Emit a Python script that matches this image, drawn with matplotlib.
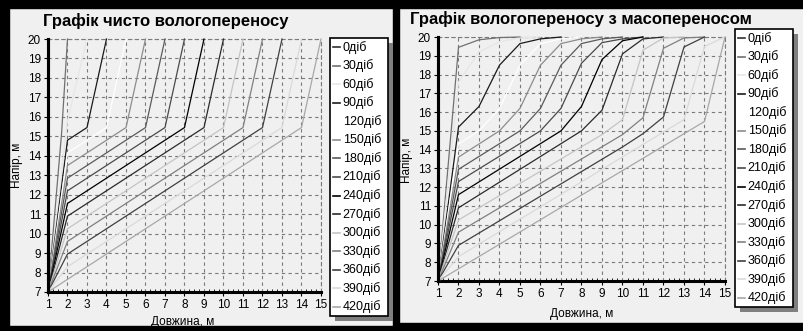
import matplotlib
matplotlib.use('Agg')
import matplotlib.pyplot as plt
from matplotlib.patches import Rectangle
from matplotlib.ticker import MultipleLocator

plt.rcParams['font.family'] = ['Liberation Sans', 'DejaVu Sans']

W, H = 804, 331

# --- дані ---
days = [0, 30, 60, 90, 120, 150, 180, 210, 240, 270, 300, 330, 360, 390, 420]
labels = [f'{d}діб' for d in days]
colors = ['#303030', '#707070', '#e6e6e6', '#1a1a1a', '#ffffff', '#8c8c8c', '#5a5a5a',
          '#4a4a4a', '#000000', '#2a2a2a', '#c4c4c4', '#808080', '#404040', '#dadada', '#a8a8a8']

# чисто вологоперенос
left_x = [[1, 1], [1, 1.7, 2], [1, 2, 3], [1, 2, 3, 4], [1, 2, 4, 5], [1, 2, 5, 6],
          [1, 2, 6, 7], [1, 2, 7, 8], [1, 2, 8, 9], [1, 2, 9, 10], [1, 2, 10, 11],
          [1, 2, 11, 12], [1, 2, 12, 13], [1, 2, 13, 14], [1, 14, 15]]
left_y = [[7, 20], [7, 15.2, 20], [7, 15.8, 20], [7, 14.8, 15.45, 20], [7, 14.15, 15.45, 20],
          [7, 13.5, 15.45, 20], [7, 12.85, 15.45, 20], [7, 12.2, 15.45, 20], [7, 11.55, 15.45, 20],
          [7, 10.9, 15.45, 20], [7, 10.25, 15.45, 20], [7, 9.6, 15.45, 20], [7, 8.95, 15.45, 20],
          [7, 8.3, 15.45, 20], [7, 15.45, 20]]

# вологоперенос з масопереносом
right_x = [[1, 1], [1, 2, 3, 4, 5], [1, 2, 3, 4, 5, 6], [1, 2, 3, 4, 5, 6, 7],
           [1, 2, 3, 4, 5, 6, 7, 8], [1, 2, 4, 5, 6, 7, 8, 9], [1, 2, 5, 6, 7, 8, 9, 10],
           [1, 2, 6, 7, 8, 9, 10, 11], [1, 2, 7, 8, 9, 10, 11], [1, 2, 8, 9, 10, 11, 12],
           [1, 2, 9, 10, 11, 12, 13], [1, 2, 10, 11, 12, 13, 14], [1, 2, 10, 11, 12, 13, 14],
           [1, 2, 13, 14, 15], [1, 2, 14, 15]]
right_y = [[7, 20], [7, 19.45, 19.85, 19.97, 20], [7, 17.6, 19.2, 19.75, 19.95, 20],
           [7, 15.2, 16.3, 18.5, 19.65, 19.9, 20], [7, 14.3, 15.0, 16.2, 18.5, 19.65, 19.9, 20],
           [7, 13.6, 15.0, 16.2, 18.5, 19.65, 19.9, 20], [7, 12.95, 15.0, 16.2, 18.5, 19.65, 19.9, 20],
           [7, 12.3, 15.0, 16.2, 18.6, 19.7, 19.9, 20], [7, 11.6, 15.0, 16.3, 18.8, 19.8, 20],
           [7, 10.9, 15.0, 16.1, 19.1, 19.9, 20], [7, 10.25, 14.8, 15.6, 19.3, 19.95, 20],
           [7, 9.6, 14.8, 15.7, 19.4, 19.95, 20], [7, 8.9, 14.14, 14.85, 15.74, 19.47, 20],
           [7, 8.3, 15.6, 19.5, 20], [7, 7.65, 15.5, 20]]

xticks = list(range(1, 16))
yticks = list(range(7, 21))


def box(x0, y0, x1, y1):
    # пікселі -> частки фігури
    return [x0 / W, 1 - y1 / H, (x1 - x0) / W, (y1 - y0) / H]


fig = plt.figure(figsize=(W / 100, H / 100), dpi=100)
fig.patch.set_facecolor('#f0f0f0')

# чорна рамка вікна
for r in [(0, 0, 804, 8), (0, 0, 9, 331), (0, 326, 396, 331), (393, 0, 399, 331), (399, 323, 804, 331)]:
    fig.patches.append(Rectangle((r[0] / W, 1 - r[3] / H), (r[2] - r[0]) / W, (r[3] - r[1]) / H,
                                 transform=fig.transFigure, color='black', zorder=-1))


def draw_panel(rect, xs, ys, title, tpos, ylab_pos, xlab_pos, leg_rect):
    ax = fig.add_axes(box(*rect))
    ax.set_facecolor('#f0f0f0')
    for x, y, c in zip(xs[1:], ys[1:], colors[1:]):
        ax.plot(x, y, color=c, lw=0.9, clip_on=False, zorder=3)
    ax.plot(xs[0], ys[0], color='black', lw=2.2, clip_on=False, zorder=4)
    ax.set_xlim(1, 15)
    ax.set_ylim(7, 20)
    ax.set_xticks(xticks)
    ax.set_yticks(yticks)
    ax.xaxis.set_minor_locator(MultipleLocator(0.25))
    ax.grid(True, ls=(0, (3, 3)), color='#7a7a7a', lw=0.8)
    for s in ['top', 'right']:
        ax.spines[s].set_linestyle((0, (3, 3)))
        ax.spines[s].set_color('#7a7a7a')
        ax.spines[s].set_linewidth(0.8)
    ax.spines['bottom'].set_linewidth(2.2)
    ax.spines['left'].set_linewidth(2.2)
    ax.tick_params(axis='both', labelsize=8.5, length=3, width=0.8, pad=2)
    ax.tick_params(axis='x', which='minor', length=2, width=0.6, direction='in')
    fig.text(tpos[0] / W, 1 - tpos[1] / H, title, fontsize=12, fontweight='bold',
             ha='left', va='center')
    fig.text(ylab_pos[0] / W, 1 - ylab_pos[1] / H, 'Напір, м', fontsize=8.5, rotation=90,
             ha='center', va='center')
    fig.text(xlab_pos[0] / W, 1 - xlab_pos[1] / H, 'Довжина, м', fontsize=8.5,
             ha='center', va='center')

    # легенда з тінню
    lx0, ly0, lx1, ly1 = leg_rect
    lax = fig.add_axes(box(*leg_rect))
    lax.set_xlim(0, 1)
    lax.set_ylim(0, 1)
    lax.axis('off')
    sx, sy = 5 / (lx1 - lx0), 5 / (ly1 - ly0)
    lax.add_patch(Rectangle((sx, -sy), 1, 1, facecolor='#7f7f7f', edgecolor='none',
                            transform=lax.transAxes, clip_on=False, zorder=0))
    lax.add_patch(Rectangle((0, 0), 1, 1, facecolor='white', edgecolor='black', lw=1.2,
                            transform=lax.transAxes, clip_on=False, zorder=1))
    n = len(labels)
    for i, (lab, c) in enumerate(zip(labels, colors)):
        yy = 1 - (i + 0.5) / n
        lax.plot([0.05, 0.17], [yy, yy], color=c, lw=1.2, zorder=2)
        lax.text(0.22, yy, lab, fontsize=9, ha='left', va='center', zorder=2)
    return ax


draw_panel((48, 39, 321, 292), left_x, left_y, 'Графік чисто вологопереносу',
           (43, 21), (17, 165), (183, 322), (330, 38, 388, 316))
draw_panel((438, 37, 725, 281), right_x, right_y, 'Графік вологопереносу з масопереносом',
           (410, 19), (407, 160), (582, 314), (735, 29, 793, 307))

fig.savefig('out.png', dpi=100, facecolor=fig.get_facecolor())
